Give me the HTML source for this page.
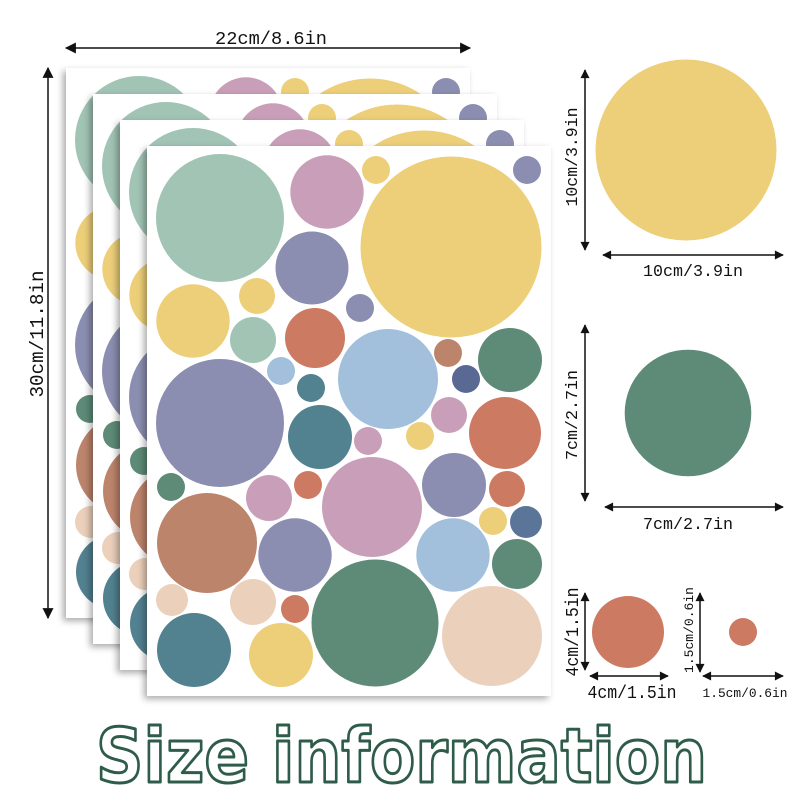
<!DOCTYPE html>
<html><head><meta charset="utf-8"><style>
html,body{margin:0;padding:0;background:#fff;}
svg{display:block;}
.t{font-family:"Liberation Mono","DejaVu Sans Mono",monospace;fill:#111;}
</style></head><body>
<svg width="800" height="800" viewBox="0 0 800 800" xmlns="http://www.w3.org/2000/svg">
<defs>
<filter id="sh" x="-10%" y="-10%" width="120%" height="120%">
<feDropShadow dx="-3" dy="3" stdDeviation="3.5" flood-color="#000" flood-opacity="0.33"/>
</filter>
<g id="pat">
<circle cx="73" cy="72" r="64" fill="#a1c4b5"/>
<circle cx="180" cy="46" r="36.7" fill="#c99eb9"/>
<circle cx="229" cy="24" r="14" fill="#edcf79"/>
<circle cx="304" cy="101" r="90.5" fill="#edcf79"/>
<circle cx="380" cy="24" r="14" fill="#8b8eb0"/>
<circle cx="165" cy="122" r="36.5" fill="#8b8eb0"/>
<circle cx="46" cy="175" r="36.7" fill="#edcf79"/>
<circle cx="110" cy="150" r="18" fill="#edcf79"/>
<circle cx="213" cy="162" r="14" fill="#8b8eb0"/>
<circle cx="106" cy="194" r="23" fill="#a1c4b5"/>
<circle cx="168" cy="192" r="30" fill="#cd7a62"/>
<circle cx="241" cy="233" r="50" fill="#a2c0dc"/>
<circle cx="301" cy="207" r="14" fill="#bd846c"/>
<circle cx="363" cy="214" r="32" fill="#5d8b77"/>
<circle cx="319" cy="233" r="14" fill="#5a6894"/>
<circle cx="134" cy="225" r="14" fill="#a2c0dc"/>
<circle cx="164" cy="242" r="14" fill="#528190"/>
<circle cx="73" cy="277" r="64" fill="#8b8eb0"/>
<circle cx="173" cy="291" r="32" fill="#528190"/>
<circle cx="221" cy="295" r="14" fill="#c99eb9"/>
<circle cx="273" cy="290" r="14" fill="#edcf79"/>
<circle cx="302" cy="269" r="18" fill="#c99eb9"/>
<circle cx="358" cy="287" r="36" fill="#cd7a62"/>
<circle cx="24" cy="341" r="14" fill="#5d8b77"/>
<circle cx="122" cy="352" r="23" fill="#c99eb9"/>
<circle cx="161" cy="339" r="14" fill="#cd7a62"/>
<circle cx="225" cy="361" r="50" fill="#c99eb9"/>
<circle cx="307" cy="339" r="32" fill="#8b8eb0"/>
<circle cx="360" cy="343" r="18" fill="#cd7a62"/>
<circle cx="60" cy="397" r="50" fill="#bd846c"/>
<circle cx="148" cy="409" r="36.7" fill="#8b8eb0"/>
<circle cx="346" cy="375" r="14" fill="#edcf79"/>
<circle cx="379" cy="376" r="16" fill="#5a7598"/>
<circle cx="306" cy="409" r="36.7" fill="#a2c0dc"/>
<circle cx="370" cy="418" r="25" fill="#5d8b77"/>
<circle cx="228" cy="477" r="63.5" fill="#5d8b77"/>
<circle cx="345" cy="490" r="50" fill="#ebd0bb"/>
<circle cx="25" cy="454" r="16" fill="#ebd0bb"/>
<circle cx="106" cy="456" r="23" fill="#ebd0bb"/>
<circle cx="148" cy="463" r="14" fill="#cd7a62"/>
<circle cx="47" cy="504" r="37" fill="#528190"/>
<circle cx="134" cy="509" r="32" fill="#edcf79"/>
</g>
<clipPath id="c0"><rect x="66" y="68" width="404" height="550"/></clipPath>
<clipPath id="c1"><rect x="93" y="94" width="404" height="550"/></clipPath>
<clipPath id="c2"><rect x="120" y="120" width="404" height="550"/></clipPath>
<clipPath id="c3"><rect x="147" y="146" width="404" height="550"/></clipPath>
<marker id="ah" viewBox="0 0 10 10" refX="9" refY="5" markerWidth="13" markerHeight="11" markerUnits="userSpaceOnUse" orient="auto-start-reverse">
<path d="M0,0 L10,5 L0,10 z" fill="#111"/>
</marker>
<marker id="ahs" viewBox="0 0 10 10" refX="9" refY="5" markerWidth="11" markerHeight="9" markerUnits="userSpaceOnUse" orient="auto-start-reverse">
<path d="M0,0 L10,5 L0,10 z" fill="#111"/>
</marker>
</defs>

<!-- sheets -->
<rect x="66" y="68" width="404" height="550" fill="#fff" filter="url(#sh)"/>
<g clip-path="url(#c0)"><use href="#pat" transform="translate(66,68)"/></g>
<rect x="93" y="94" width="404" height="550" fill="#fff" filter="url(#sh)"/>
<g clip-path="url(#c1)"><use href="#pat" transform="translate(93,94)"/></g>
<rect x="120" y="120" width="404" height="550" fill="#fff" filter="url(#sh)"/>
<g clip-path="url(#c2)"><use href="#pat" transform="translate(120,120)"/></g>
<rect x="147" y="146" width="404" height="550" fill="#fff" filter="url(#sh)"/>
<g clip-path="url(#c3)"><use href="#pat" transform="translate(147,146)"/></g>

<!-- dimension arrows -->
<g stroke="#111" stroke-width="1.5" fill="none">
<line x1="66" y1="48" x2="470" y2="48" marker-start="url(#ah)" marker-end="url(#ah)"/>
<line x1="48" y1="68" x2="48" y2="618" marker-start="url(#ah)" marker-end="url(#ah)"/>
<line x1="585" y1="70" x2="585" y2="250" marker-start="url(#ahs)" marker-end="url(#ahs)"/>
<line x1="603" y1="255" x2="783" y2="255" marker-start="url(#ahs)" marker-end="url(#ahs)"/>
<line x1="585" y1="325" x2="585" y2="501" marker-start="url(#ahs)" marker-end="url(#ahs)"/>
<line x1="605" y1="507" x2="783" y2="507" marker-start="url(#ahs)" marker-end="url(#ahs)"/>
<line x1="585" y1="593" x2="585" y2="670" marker-start="url(#ahs)" marker-end="url(#ahs)"/>
<line x1="590" y1="676" x2="668" y2="676" marker-start="url(#ahs)" marker-end="url(#ahs)"/>
<line x1="700" y1="593" x2="700" y2="672" marker-start="url(#ahs)" marker-end="url(#ahs)"/>
<line x1="703" y1="676" x2="783" y2="676" marker-start="url(#ahs)" marker-end="url(#ahs)"/>
</g>

<!-- right circles -->
<circle cx="686" cy="150" r="90.5" fill="#edcf79"/>
<circle cx="688" cy="413" r="63.3" fill="#5d8b77"/>
<circle cx="628" cy="632" r="36" fill="#cd7a62"/>
<circle cx="743" cy="632" r="14" fill="#cd7a62"/>

<!-- labels -->
<text class="t" x="271" y="44" font-size="18" text-anchor="middle" textLength="112" lengthAdjust="spacingAndGlyphs">22cm/8.6in</text>
<text class="t" transform="translate(43,334) rotate(-90)" font-size="19" text-anchor="middle" textLength="127" lengthAdjust="spacingAndGlyphs">30cm/11.8in</text>

<text class="t" transform="translate(577,157) rotate(-90)" font-size="17" text-anchor="middle" textLength="99" lengthAdjust="spacingAndGlyphs">10cm/3.9in</text>
<text class="t" x="693" y="276" font-size="17" text-anchor="middle" textLength="100" lengthAdjust="spacingAndGlyphs">10cm/3.9in</text>

<text class="t" transform="translate(577,415) rotate(-90)" font-size="17" text-anchor="middle" textLength="90" lengthAdjust="spacingAndGlyphs">7cm/2.7in</text>
<text class="t" x="688" y="529" font-size="17" text-anchor="middle" textLength="90" lengthAdjust="spacingAndGlyphs">7cm/2.7in</text>

<text class="t" transform="translate(578,632) rotate(-90)" font-size="18" text-anchor="middle" textLength="89" lengthAdjust="spacingAndGlyphs">4cm/1.5in</text>
<text class="t" x="632" y="698" font-size="18" text-anchor="middle" textLength="89" lengthAdjust="spacingAndGlyphs">4cm/1.5in</text>

<text class="t" transform="translate(693,630) rotate(-90)" font-size="13" text-anchor="middle" textLength="86" lengthAdjust="spacingAndGlyphs">1.5cm/0.6in</text>
<text class="t" x="745" y="697" font-size="13" text-anchor="middle" textLength="85" lengthAdjust="spacingAndGlyphs">1.5cm/0.6in</text>

<!-- title -->
<text x="96" y="782" font-family="'DejaVu Sans','Liberation Sans',sans-serif" font-weight="bold" font-size="75" fill="#fff" stroke="#2f5c4a" stroke-width="3" stroke-linejoin="round" textLength="611" lengthAdjust="spacingAndGlyphs">Size information</text>
</svg>
</body></html>
